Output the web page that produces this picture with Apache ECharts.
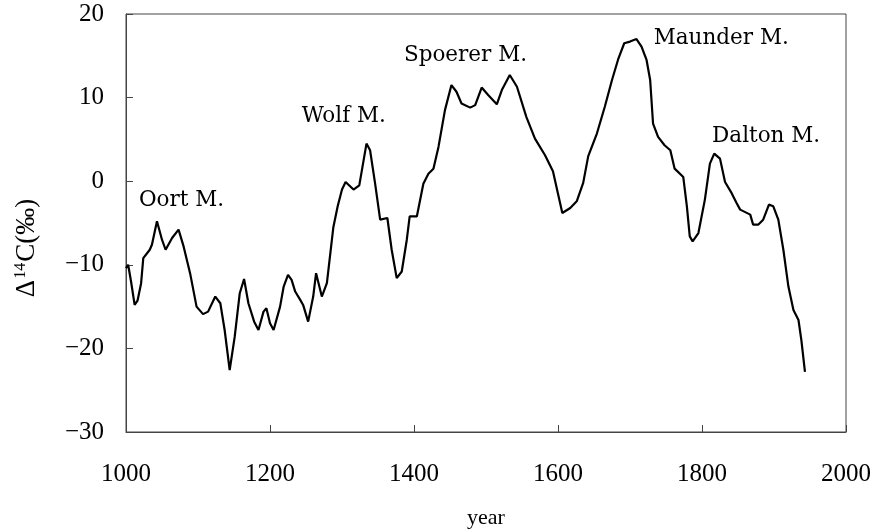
<!DOCTYPE html>
<html>
<head>
<meta charset="utf-8">
<script src="https://cdn.jsdelivr.net/npm/echarts@6/dist/echarts.min.js"></script>
<style>
    html, body { margin: 0; padding: 0; background: #fff; }
    #main { width: 876px; height: 529px; }
</style>
</head>
<body>
<div id="main"></div>
<script>
// 西暦
var years = [1000, 1003, 1007, 1012, 1016, 1021, 1024, 1033, 1036, 1043, 1050, 1055, 1064, 1073, 1080, 1089, 1098,
    1107, 1114, 1124, 1131, 1137, 1144, 1151, 1158, 1164, 1170, 1178, 1184, 1191, 1195, 1200, 1205, 1214, 1219,
    1225, 1230, 1235, 1242, 1246, 1253, 1260, 1264, 1272, 1279, 1288, 1294, 1300, 1305, 1316, 1324, 1334, 1339,
    1346, 1353, 1363, 1369, 1376, 1383, 1390, 1394, 1404, 1413, 1420, 1427, 1434, 1443, 1452, 1459, 1466, 1478,
    1485, 1494, 1503, 1515, 1522, 1533, 1543, 1556, 1568, 1582, 1593, 1600, 1606, 1617, 1626, 1635, 1642, 1654,
    1665, 1675, 1684, 1692, 1700, 1709, 1716, 1723, 1728, 1732, 1739, 1748, 1756, 1762, 1774, 1779, 1783, 1787,
    1795, 1804, 1811, 1817, 1825, 1832, 1841, 1848, 1853, 1867, 1871, 1878, 1885, 1893, 1899, 1906, 1913, 1920,
    1927, 1934, 1938, 1943];
// Δ14C (‰)
var d14c = [-10.4, -10.0, -12.0, -14.8, -14.3, -12.2, -9.2, -8.2, -7.6, -4.8, -7.0, -8.2, -6.8, -5.8, -7.8, -11.0, -15.0,
    -15.9, -15.6, -13.8, -14.6, -17.8, -22.6, -18.6, -13.4, -11.7, -14.6, -16.8, -17.8, -15.6, -15.2, -17.0, -17.8, -15.0, -12.6,
    -11.2, -11.8, -13.2, -14.2, -14.8, -16.8, -13.8, -11.0, -13.8, -12.2, -5.5, -3.0, -1.0, -0.1, -1.0, -0.5, 4.5, 3.7,
    -0.3, -4.6, -4.4, -8.2, -11.6, -10.8, -7.0, -4.2, -4.2, -0.3, 0.9, 1.5, 4.1, 8.5, 11.5, 10.7, 9.3, 8.8,
    9.1, 11.2, 10.3, 9.2, 10.9, 12.7, 11.3, 7.7, 5.1, 3.1, 1.2, -1.5, -3.8, -3.2, -2.4, -0.2, 3.0, 5.7,
    8.9, 12.1, 14.7, 16.5, 16.7, 17.0, 16.1, 14.5, 12.1, 6.9, 5.3, 4.3, 3.7, 1.5, 0.5, -3.0, -6.6, -7.2,
    -6.2, -2.2, 2.1, 3.3, 2.7, -0.1, -1.4, -2.6, -3.4, -4.0, -5.2, -5.2, -4.6, -2.8, -3.0, -4.6, -8.2, -12.6,
    -15.4, -16.6, -19.0, -22.8];

// 極小期の注記
var minimaNames = ['Oort M.', 'Wolf M.', 'Spoerer M.', 'Maunder M.', 'Dalton M.'];
var minimaYears = [1018, 1244, 1386, 1733, 1814];
var minimaValues = [-2.3, 7.7, 15.0, 17.1, 5.3];

var myChart = echarts.init(document.getElementById('main'));

var serif = '"Liberation Serif", "DejaVu Serif", serif';
var axisColor = '#444';

var option = {
    animation: false,
    backgroundColor: '#fff',
    grid: {
        left: 126,
        right: 30,
        top: 14,
        bottom: 97,
        outerBoundsMode: 'none',
        containLabel: false,
        show: true,
        borderColor: axisColor,
        borderWidth: 1
    },
    xAxis: {
        type: 'value',
        min: 1000,
        max: 2000,
        interval: 200,
        name: 'year',
        nameLocation: 'middle',
        nameGap: 75,
        nameTextStyle: { fontFamily: serif, fontSize: 22, color: '#000' },
        axisLine: { onZero: false, lineStyle: { color: axisColor, width: 1 } },
        axisTick: { inside: true, length: 7, lineStyle: { color: axisColor } },
        axisLabel: {
            margin: 30,
            fontFamily: serif,
            fontSize: 25,
            color: '#000',
            formatter: function (v) { return String(v); }
        },
        splitLine: { show: false }
    },
    yAxis: {
        type: 'value',
        min: -30,
        max: 20,
        interval: 10,
        name: '{t|Δ}{s|14}{t|C(‰)}',
        nameLocation: 'middle',
        nameGap: 86,
        nameRotate: 90,
        nameTextStyle: {
            padding: [0, 50, 0, 0],
            rich: {
                t: { fontFamily: serif, fontSize: 27, color: '#000' },
                s: { fontFamily: serif, fontSize: 16, color: '#000', verticalAlign: 'top', padding: [0, 1, 9, 1] }
            }
        },
        axisLine: { onZero: false, lineStyle: { color: axisColor, width: 1 } },
        axisTick: { inside: true, length: 7, lineStyle: { color: axisColor } },
        axisLabel: {
            margin: 22,
            fontFamily: serif,
            fontSize: 25,
            color: '#000',
            formatter: function (v) { return String(v).replace('-', '\u2212'); }
        },
        splitLine: { show: false }
    },
    series: [
        {
            type: 'line',
            data: years.map(function (y, i) { return [y, d14c[i]]; }),
            showSymbol: false,
            lineStyle: { color: '#000', width: 2.2 },
            markPoint: {
                symbol: 'circle',
                symbolSize: 0,
                silent: true,
                label: {
                    show: true,
                    position: 'right',
                    distance: 0,
                    fontFamily: '"DejaVu Serif", serif',
                    fontSize: 21.5,
                    color: '#000',
                    formatter: function (p) { return p.name; }
                },
                data: minimaNames.map(function (n, i) {
                    return { name: n, coord: [minimaYears[i], minimaValues[i]] };
                })
            }
        }
    ]
};

myChart.setOption(option);
</script>
</body>
</html>
